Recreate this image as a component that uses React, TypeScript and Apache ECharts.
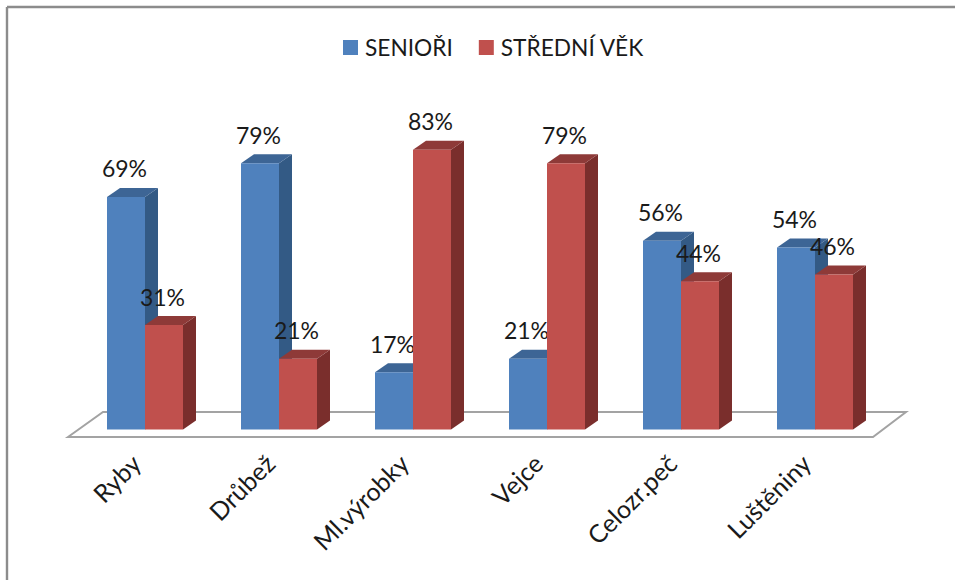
import React, { useEffect, useRef } from "react";
import * as echarts from "echarts";

const categories = ["Ryby", "Drůbež", "Ml.výrobky", "Vejce", "Celozr.peč", "Luštěniny"];
const seniorValues = [69, 79, 17, 21, 56, 54];
const middleAgeValues = [31, 21, 83, 79, 44, 46];
const seriesNames = ["SENIOŘI", "STŘEDNÍ VĚK"];

const FONT = "Lato, 'Noto Sans', sans-serif";
const BAR_WIDTH = 38;
const DEPTH_X = 13;
const DEPTH_Y = 9;

const blueShades = { front: "#4f81bd", top: "#3d6595", side: "#335a85" };
const redShades = { front: "#c0504d", top: "#8e3a38", side: "#7a2e2c" };

// One extruded column: front face, top and right side, plus its percentage label.
function columnRenderer(side: number, shades: typeof blueShades) {
  return (_params: any, api: any) => {
    const top = api.coord([api.value(0), api.value(1)]);
    const base = api.coord([api.value(0), 0]);
    const x0 = side < 0 ? top[0] - BAR_WIDTH : top[0];
    const x1 = x0 + BAR_WIDTH;
    const y0 = top[1];
    const y1 = base[1];
    return {
      type: "group",
      children: [
        {
          type: "polygon",
          shape: { points: [[x1, y0], [x1 + DEPTH_X, y0 - DEPTH_Y], [x1 + DEPTH_X, y1 - DEPTH_Y], [x1, y1]] },
          style: { fill: shades.side },
        },
        {
          type: "polygon",
          shape: { points: [[x0, y0], [x0 + DEPTH_X, y0 - DEPTH_Y], [x1 + DEPTH_X, y0 - DEPTH_Y], [x1, y0]] },
          style: { fill: shades.top },
        },
        {
          type: "rect",
          shape: { x: x0, y: y0, width: BAR_WIDTH, height: y1 - y0 },
          style: { fill: shades.front },
        },
        {
          type: "text",
          z2: 10,
          style: {
            x: x0 + BAR_WIDTH / 2 - 1.5,
            y: y0 - 28.5,
            text: `${api.value(1)}%`,
            fill: "#1a1a1a",
            font: `23px ${FONT}`,
            align: "center",
            verticalAlign: "middle",
          },
        },
      ],
    };
  };
}

export default function App() {
  const ref = useRef<HTMLDivElement>(null);

  useEffect(() => {
    const chart = echarts.init(ref.current!, undefined, { renderer: "svg" });
    chart.setOption({
      animation: false,
      backgroundColor: "#ffffff",
      legend: {
        top: 31,
        left: 338,
        itemWidth: 15,
        itemHeight: 15,
        itemGap: 26,
        icon: "rect",
        textStyle: { fontFamily: FONT, fontSize: 22.7, color: "#1a1a1a", padding: [0, 0, 0, 2] },
        data: seriesNames,
      },
      grid: { left: 78, top: 92.5, width: 804, height: 337 },
      xAxis: {
        type: "category",
        data: categories,
        axisLine: { show: false },
        axisTick: { show: false },
        axisLabel: {
          rotate: 45,
          margin: 20,
          padding: [0, 13, 0, 0],
          fontFamily: FONT,
          fontSize: 25,
          color: "#1a1a1a",
          interval: 0,
        },
      },
      yAxis: { type: "value", min: 0, max: 100, show: false, splitLine: { show: false } },
      graphic: [
        {
          type: "polygon",
          z: 0,
          shape: { points: [[68, 437], [103, 412], [906, 412], [873, 437]] },
          style: { fill: "#ffffff", stroke: "#a3a3a3", lineWidth: 2 },
        },
        { type: "line", z: 1, shape: { x1: 7, y1: 7, x2: 955, y2: 7 }, style: { stroke: "#8c8c8c", lineWidth: 2.4 } },
        { type: "line", z: 1, shape: { x1: 7, y1: 7, x2: 7, y2: 580 }, style: { stroke: "#8c8c8c", lineWidth: 2.4 } },
      ],
      series: [
        {
          name: seriesNames[0],
          type: "custom",
          z: 3,
          itemStyle: { color: blueShades.front },
          encode: { x: 0, y: 1 },
          data: seniorValues.map((v, i) => [i, v]),
          renderItem: columnRenderer(-1, blueShades),
        },
        {
          name: seriesNames[1],
          type: "custom",
          z: 4,
          itemStyle: { color: redShades.front },
          encode: { x: 0, y: 1 },
          data: middleAgeValues.map((v, i) => [i, v]),
          renderItem: columnRenderer(1, redShades),
        },
      ],
    });
    return () => chart.dispose();
  }, []);

  return <div ref={ref} style={{ position: "fixed", left: 0, top: 0, width: 955, height: 580 }} />;
}
